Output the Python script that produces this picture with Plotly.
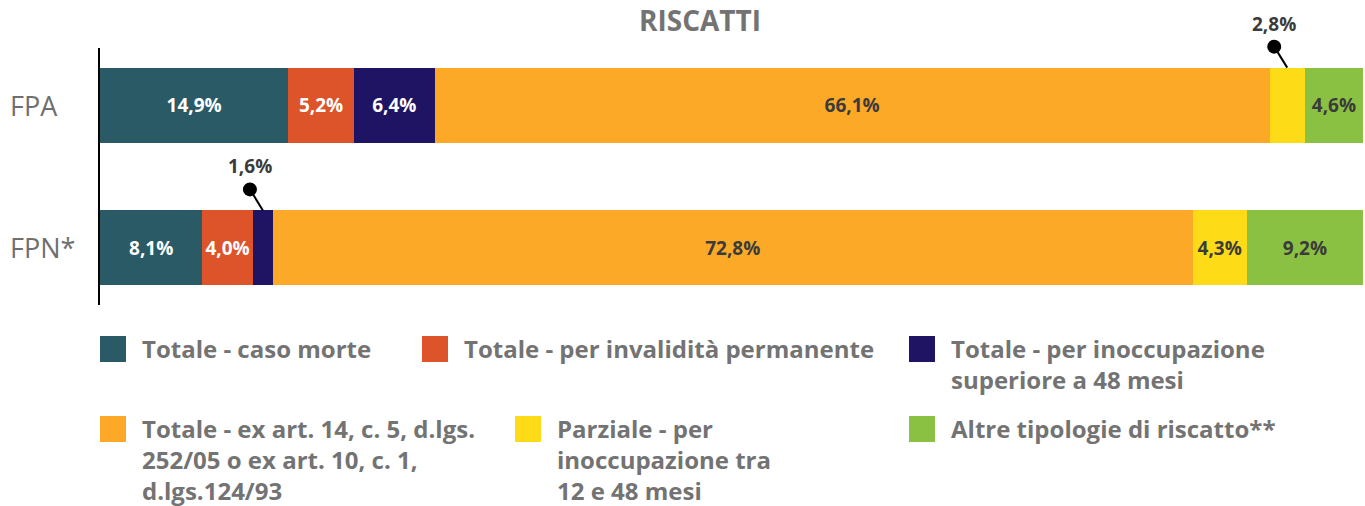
import plotly.graph_objects as go

categories = ["FPN*", "FPA"]
series_names = [
    "Totale - caso morte",
    "Totale - per invalidità permanente",
    "Totale - per inoccupazione<br>superiore a 48 mesi",
    "Totale - ex art. 14, c. 5, d.lgs.<br>252/05 o ex art. 10, c. 1,<br>d.lgs.124/93",
    "Parziale - per<br>inoccupazione tra<br>12 e 48 mesi",
    "Altre tipologie di riscatto**",
]
# values for [FPN*, FPA]
caso_morte = [8.1, 14.9]
invalidita = [4.0, 5.2]
inoccupazione_48 = [1.6, 6.4]
ex_art14 = [72.8, 66.1]
parziale = [4.3, 2.8]
altre = [9.2, 4.6]

series_values = [caso_morte, invalidita, inoccupazione_48, ex_art14, parziale, altre]
colors = ["#2a5a65", "#dd532a", "#1f1463", "#fda928", "#fddb17", "#8bc142"]
label_colors = ["white", "white", "white", "#3b3b3b", "#3b3b3b", "#3b3b3b"]

FONT = "Open Sans"
GRAY = "#737373"
W, H = 1365, 506
L, R, T, B = 100, 2, 48, 201
PW, PH = W - L - R, H - T - B
Y0, Y1 = -0.4, 1.4


def fmt(v):
    return f"{v:.1f}%".replace(".", ",")


def px2x(px):
    return (px - L) / PW


def py2y(py):
    return (H - B - py) / PH


def d2paper(yv):
    return (yv - Y0) / (Y1 - Y0)


fig = go.Figure()
for name, vals, col, lc in zip(series_names, series_values, colors, label_colors):
    fig.add_trace(go.Bar(
        y=categories, x=vals, orientation="h", name=name,
        marker=dict(color=col, line=dict(width=0)),
        text=[fmt(v) if v >= 3.5 else "" for v in vals],
        textposition="inside", insidetextanchor="middle",
        textfont=dict(family=FONT, size=19, color=lc, weight="bold"),
        textangle=0, width=0.525,
        hoverinfo="skip",
    ))

bar_half = 0.2625
shapes = []
annotations = []

# callouts for small segments (bar index, series index)
callouts = [(1, 4), (0, 2)]
for ci, si in callouts:
    start = sum(series_values[k][ci] for k in range(si))
    mid = start + series_values[si][ci] / 2
    top = d2paper(ci + bar_half)
    dx, dy = -13, 21
    shapes.append(dict(type="line", xref="x", yref="paper", xsizemode="pixel", ysizemode="pixel",
                       xanchor=mid, yanchor=top, x0=dx, x1=0, y0=dy, y1=0,
                       line=dict(color="black", width=2)))
    shapes.append(dict(type="circle", xref="x", yref="paper", xsizemode="pixel", ysizemode="pixel",
                       xanchor=mid, yanchor=top, x0=dx - 7, x1=dx + 7, y0=dy - 7, y1=dy + 7,
                       fillcolor="black", line=dict(color="black", width=0)))
    annotations.append(dict(x=mid, y=top + 44 / PH, xref="x", yref="paper",
                            text=fmt(series_values[si][ci]),
                            showarrow=False, xshift=dx, xanchor="center", yanchor="middle",
                            font=dict(family=FONT, size=19, color="#3b3b3b", weight="bold")))

# category labels
for i, c in enumerate(categories):
    annotations.append(dict(x=px2x(8), y=i, xref="paper", yref="y", text=c, showarrow=False,
                            xanchor="left", yanchor="middle",
                            font=dict(family=FONT, size=27, color="#6f6f6f")))

# title
annotations.append(dict(x=px2x(700), y=py2y(0), xref="paper", yref="paper", text="<b>RISCATTI</b>",
                        showarrow=False, xanchor="center", yanchor="top", borderpad=0,
                        font=dict(family=FONT, size=28, color=GRAY)))

# legend
legend_pos = [(100, 349), (422, 349), (909, 349), (100, 429), (515, 429), (909, 429)]
for (lx, ly), name, col in zip(legend_pos, series_names, colors):
    shapes.append(dict(type="rect", xref="paper", yref="paper",
                       x0=px2x(lx), x1=px2x(lx + 26), y0=py2y(ly - 13), y1=py2y(ly + 13),
                       fillcolor=col, line=dict(width=0)))
    annotations.append(dict(x=px2x(lx + 40), y=py2y(ly - 19), xref="paper", yref="paper",
                            text=name, showarrow=False, xanchor="left", yanchor="top", align="left",
                            font=dict(family=FONT, size=24, color=GRAY, weight="bold")))

fig.update_layout(
    width=W, height=H, barmode="stack", showlegend=False,
    separators=",.",
    margin=dict(l=L, r=R, t=T, b=B, pad=0),
    paper_bgcolor="white", plot_bgcolor="white",
    xaxis=dict(range=[0, 100], visible=False, fixedrange=True),
    yaxis=dict(type="category", categoryorder="array", categoryarray=categories,
               range=[Y0, Y1], showticklabels=False, ticks="", showgrid=False, zeroline=False,
               showline=True, linecolor="black", linewidth=2, fixedrange=True),
    shapes=shapes, annotations=annotations,
    uniformtext=dict(mode="show", minsize=8),
)

fig.write_html("out.html", config={"displayModeBar": False})
